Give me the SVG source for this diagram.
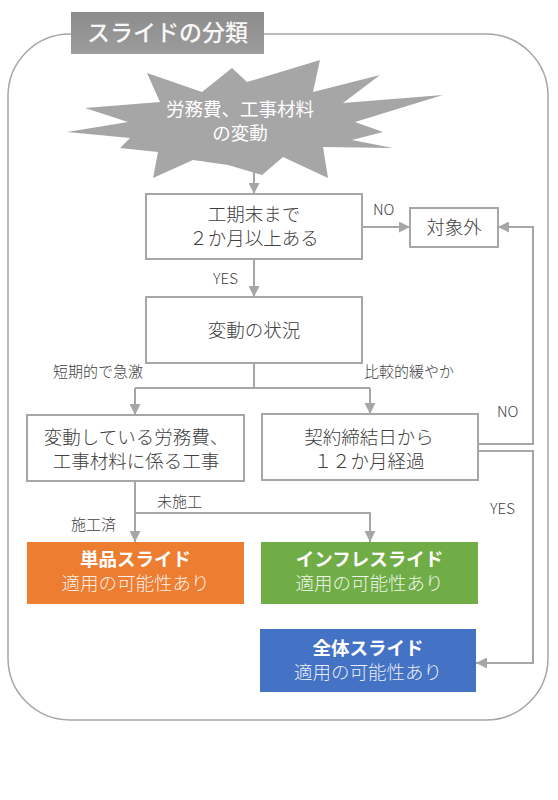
<svg xmlns="http://www.w3.org/2000/svg" width="558" height="800" viewBox="0 0 558 800">
<defs>
<linearGradient id="tg" x1="0" y1="0" x2="0" y2="1">
<stop offset="0" stop-color="#8c8c8c"/>
<stop offset="1" stop-color="#9c9c9c"/>
</linearGradient>
<marker id="ah" viewBox="0 0 10 10" refX="10" refY="5" markerWidth="5.5" markerHeight="5.5" orient="auto" markerUnits="strokeWidth">
<path d="M0,0 L10,5 L0,10 z" fill="#a6a6a6"/>
</marker>
</defs>
<style>
text{font-family:"Noto Sans CJK JP","Noto Sans",sans-serif;}
.box{fill:#fff;stroke:#a6a6a6;stroke-width:2;}
.t{font-size:18.5px;font-weight:300;fill:#404040;text-anchor:middle;}
.lb{font-size:15px;font-weight:300;fill:#404040;}
.c{fill:none;stroke:#a6a6a6;stroke-width:2;}
.ca{fill:none;stroke:#a6a6a6;stroke-width:2;marker-end:url(#ah);}
.w1{font-size:18.5px;font-weight:bold;fill:#fff;text-anchor:middle;}
.w2{font-size:18.5px;font-weight:300;fill:#fff;fill-opacity:0.9;text-anchor:middle;}
.ws{font-size:18.5px;fill:#fff;text-anchor:middle;}
</style>
<rect width="558" height="800" fill="#fff"/>
<g id="frame">
<rect x="8" y="34" width="540" height="686" rx="62" ry="62" fill="none" stroke="#a6a6a6" stroke-width="1.5"/>
</g>
<g id="title">
<rect x="71" y="12" width="193" height="42" fill="url(#tg)"/>
<text x="167.5" y="41" font-size="23" font-weight="500" fill="#f7f7f7" text-anchor="middle">スライドの分類</text>
</g>
<g id="connectors">
<path class="ca" d="M254,172 V194"/>
<path class="ca" d="M362,227 H410"/>
<path class="ca" d="M254,259 V297"/>
<path class="c" d="M254,363 V388 M135,388 H370"/>
<path class="ca" d="M135,388 V415"/>
<path class="ca" d="M370,388 V414"/>
<path class="ca" d="M478,444 H533 V227 H498"/>
<path class="ca" d="M478,451 H533 V663 H476"/>
<path class="ca" d="M135,481 V542"/>
<path class="ca" d="M135,513 H370 V542"/>
</g>
<g id="start">
<polygon fill="#a6a6a6" points="147,73 202,92 232,68 247,82 320,60 313,92 380,75 343,103 443,95 355,122 383,132 352,140 393,148 323,147 328,178 283,157 262,175 228,165 193,160 153,178 158,152 120,148 130,138 67,132 128,122 85,108 160,102"/>
<text class="ws" x="240" y="116">労務費、工事材料</text>
<text class="ws" x="240" y="140">の変動</text>
</g>
<g id="q1">
<rect class="box" x="146" y="194" width="216" height="65"/>
<text class="t" x="254" y="221">工期末まで</text>
<text class="t" x="254" y="245">２か月以上ある</text>
</g>
<g id="out">
<rect class="box" x="410" y="208" width="88" height="39"/>
<text class="t" x="454" y="234">対象外</text>
</g>
<g id="q2">
<rect class="box" x="146" y="297" width="216" height="66"/>
<text class="t" x="254" y="337">変動の状況</text>
</g>
<g id="q3">
<rect class="box" x="27" y="415" width="217" height="66"/>
<text class="t" x="136" y="444">変動している労務費、</text>
<text class="t" x="136" y="468">工事材料に係る工事</text>
</g>
<g id="q4">
<rect class="box" x="262" y="414" width="216" height="66"/>
<text class="t" x="369" y="444">契約締結日から</text>
<text class="t" x="369" y="468">１２か月経過</text>
</g>
<g id="tanpin">
<rect x="27" y="542" width="217" height="62" fill="#ed7d31"/>
<text class="w1" x="135.5" y="566">単品スライド</text>
<text class="w2" x="135.5" y="590">適用の可能性あり</text>
</g>
<g id="infure">
<rect x="261" y="542" width="217" height="62" fill="#70ad47"/>
<text class="w1" x="369.5" y="566">インフレスライド</text>
<text class="w2" x="369.5" y="590">適用の可能性あり</text>
</g>
<g id="zentai">
<rect x="260" y="629" width="216" height="63" fill="#4472c4"/>
<text class="w1" x="368" y="655">全体スライド</text>
<text class="w2" x="368" y="679">適用の可能性あり</text>
</g>
<g id="labels">
<text class="lb" x="373" y="215">NO</text>
<text class="lb" x="213" y="284">YES</text>
<text class="lb" x="53" y="377">短期的で急激</text>
<text class="lb" x="364" y="377">比較的緩やか</text>
<text class="lb" x="497" y="417">NO</text>
<text class="lb" x="490" y="514">YES</text>
<text class="lb" x="157" y="507">未施工</text>
<text class="lb" x="71" y="530">施工済</text>
</g>
</svg>
